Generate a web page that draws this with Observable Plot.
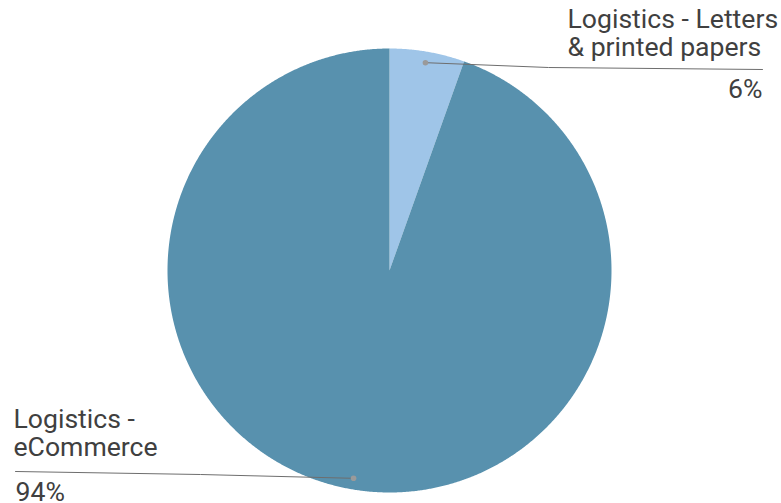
<!DOCTYPE html>
<html>
<head>
<meta charset="utf-8">
<script src="https://cdn.jsdelivr.net/npm/d3@7"></script>
<script src="https://cdn.jsdelivr.net/npm/@observablehq/plot@0.6"></script>
<style>
  html, body { margin: 0; padding: 0; background: #ffffff; }
  #chart svg { display: block; }
</style>
</head>
<body>
<div id="chart"></div>
<script>
// ---- data ----
const categories = ["Logistics - Letters & printed papers", "Logistics - eCommerce"];
const values = [5.45, 94.55];
const nameLabels = ["Logistics - Letters\n& printed papers", "Logistics -\neCommerce"];
const pctLabels = ["6%", "94%"];
const colors = ["#9fc5e8", "#5891ae"];

// ---- layout ----
const W = 781, H = 503;
const cx = 389, cy = 270, R = 222;
const layout = [
  { elbow: [548, 67], end: [762, 69], name: [567, 55, "start"], pct: [762, 97, "end"] },
  { elbow: [200, 474], end: [15, 471], name: [13, 455, "start"], pct: [15, 500, "start"] }
];

const pie = d3.pie().sort(null).value(d => d)(values);
const pt = (a, r) => [cx + r * Math.sin(a), cy - r * Math.cos(a)];

// slice polygons from pie angles
const slicePts = [];
pie.forEach((p, i) => {
  slicePts.push({ cat: categories[i], x: cx, y: cy });
  const n = Math.max(8, Math.ceil((p.endAngle - p.startAngle) / 0.005));
  for (let k = 0; k <= n; k++) {
    const a = p.startAngle + (p.endAngle - p.startAngle) * k / n;
    const [x, y] = pt(a, R);
    slicePts.push({ cat: categories[i], x, y });
  }
});

// leader lines
const dots = pie.map((p, i) => {
  const [x, y] = pt((p.startAngle + p.endAngle) / 2, R * 0.95);
  return { cat: categories[i], x, y };
});
const leaders = [];
dots.forEach((d, i) => {
  leaders.push({ cat: d.cat, x: d.x, y: d.y });
  leaders.push({ cat: d.cat, x: layout[i].elbow[0], y: layout[i].elbow[1] });
  leaders.push({ cat: d.cat, x: layout[i].end[0], y: layout[i].end[1] });
});

const names = categories.map((c, i) => ({ t: nameLabels[i], x: layout[i].name[0], y: layout[i].name[1], a: layout[i].name[2] }));
const pcts = categories.map((c, i) => ({ t: pctLabels[i], x: layout[i].pct[0], y: layout[i].pct[1], a: layout[i].pct[2] }));

const textOpts = { fontSize: 26.6, fill: "#404040", lineAnchor: "bottom", lineHeight: 1.05 };

const chart = Plot.plot({
  width: W,
  height: H,
  margin: 0,
  x: { type: "linear", domain: [0, W], range: [0, W], axis: null },
  y: { type: "linear", domain: [0, H], range: [0, H], axis: null },
  color: { domain: categories, range: colors },
  style: { fontFamily: "Roboto, 'Noto Sans', sans-serif", background: "#ffffff", overflow: "visible" },
  marks: [
    Plot.line(slicePts, { x: "x", y: "y", z: "cat", fill: "cat", stroke: "none", curve: "linear-closed" }),
    Plot.line(leaders, { x: "x", y: "y", z: "cat", stroke: "#6e6e6e", strokeWidth: 1 }),
    Plot.dot(dots, { x: "x", y: "y", r: 2.8, fill: "#9a9a9a", stroke: "none" }),
    Plot.text(names.filter(d => d.a === "start"), { x: "x", y: "y", text: "t", textAnchor: "start", ...textOpts }),
    Plot.text(pcts.filter(d => d.a === "start"), { x: "x", y: "y", text: "t", textAnchor: "start", ...textOpts }),
    Plot.text(pcts.filter(d => d.a === "end"), { x: "x", y: "y", text: "t", textAnchor: "end", ...textOpts })
  ]
});
document.getElementById("chart").appendChild(chart);
</script>
</body>
</html>
